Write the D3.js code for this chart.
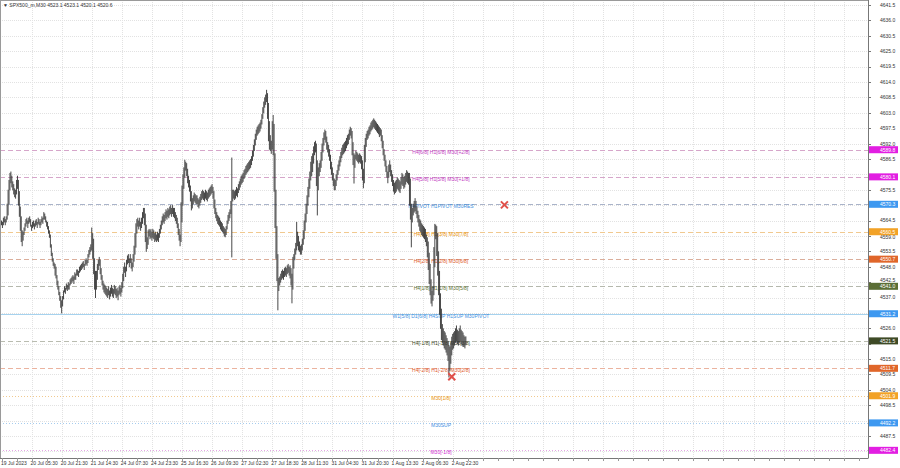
<!DOCTYPE html>
<html><head><meta charset="utf-8">
<script src="https://cdn.jsdelivr.net/npm/d3@7"></script>
<style>body{margin:0;background:#fff;}svg{display:block;font-family:"Liberation Sans",Arial,sans-serif;}</style>
</head><body><svg id="c" width="900" height="468"></svg>
<script>
const symbol = "SPX500_m,M30";
const lastBar = [4523.1, 4523.1, 4520.1, 4520.6];
const lows = [
4563,4562,4563,4564,4563, 4564,4565,4566.5,4570.5,4575.5,
4578,4576.5,4575.5,4574,4573, 4572.5,4574,4576,4570,4566,
4561,4557,4555.5,4557.5,4559.5, 4561,4562.5,4563.5,4562,4563.5,
4564,4562.5,4561,4562,4562.5, 4561.5,4562.5,4563,4562,4563.5,4563,
4562,4563,4564,4563.5,4565, 4565,4564,4562.5,4561.5,4560,
4558.5,4555,4552,4550,4548.5, 4547.5,4545,4544,4541.5,4540,
4538,4536,4533.5,4531.5,4534, 4536.5,4539,4538.5,4540,4539.5,
4540,4540,4541.5,4542,4542.5, 4543,4542,4543.5,4543.5,4545,
4545,4544.5,4546,4546.5,4547, 4547.5,4548,4547,4548.5,4549,
4548.5,4549.5,4551.5,4552.5,4553.5, 4554,4551,4545.5,4540,4537,
4540,4543.5,4547,4548.5,4545.5, 4543.5,4541.5,4540,4539,4538.5,4538,
4537.5,4537,4538,4536.5,4537.5, 4538.5,4537.5,4537,4538.5,4538,
4537,4537.5,4536.2,4538,4538.5, 4537.5,4539,4540.5,4543,4546,
4544.5,4546.5,4549,4549.5,4548, 4549.5,4547.5,4546.5,4548,4550,
4552.5,4555,4560,4562.5,4561.5, 4562.5,4561,4562,4563.5,4565.5,
4563,4557,4553.5,4554.5,4556, 4559,4558,4558.5,4557.5,4558.5,
4558,4557,4557.5,4557,4557.5, 4557,4558.5,4560,4561.5,4563,
4564,4563.5,4564.5,4565.5,4565, 4566,4565.5,4566.5,4567,4566,
4567,4566,4565.5,4564.5,4563.5,4562, 4559.5,4557.5,4555.5,4557,4564,
4570,4576,4580,4582.5,4580.5, 4578,4576.5,4575,4571.5,4568.3,
4569,4570.5,4571.5,4571,4570.5, 4570.5,4569.5,4569,4570,4571,
4572,4572.5,4572,4571.5,4572.5, 4572,4571.5,4572.5,4573,4573.5,
4574,4574.5,4572.5,4569,4567, 4565.5,4564.5,4563.5,4563,4562.5,
4561.5,4561,4560.5,4560,4559, 4558.7,4559.5,4561.5,4563.5,4564.5,
4565.5,4567,4551.5,4571.5,4572.5, 4572,4572.5,4573.5,4573,4574.5,
4575.5,4576.5,4577.5,4578,4578.5,4579.5, 4580,4581,4581.5,4582,4582.5,
4583,4583.5,4584.5,4586,4587.5, 4589.5,4591.5,4593.5,4595,4595.5,
4596,4596.5,4597.5,4599,4601, 4603,4605,4606,4607,4601,
4593,4590,4589.5,4588.5,4590, 4588,4575,4562,4551,4543,
4532.6,4539.5,4541.5,4542.5,4543.5, 4544,4543.5,4544.5,4545,4544.5,
4545.5,4546,4545,4544,4541.5, 4535.1,4540,4547.5,4550.5,4552.5,
4554,4555.5,4554,4553.5,4552.5, 4552.5,4554,4556,4558,4561,
4564,4567,4570,4573,4576, 4579,4580.5,4582,4585,4588,4589,
4577,4566.5,4575.5,4580.5,4582, 4583.5,4586,4589,4591.5,4593.5,
4592.5,4590,4589,4587.5,4586, 4583,4581,4579,4577,4575.5,
4575.5,4577,4579,4581,4582.5, 4584,4585.5,4587,4588,4588.5,
4589,4589.5,4590.5,4591.5,4592, 4593.5,4595,4594,4588,4584.5,
4577.9,4583.5,4586.5,4586,4585.5, 4585,4585.5,4585,4583,4579,
4576.2,4578,4585.5,4591,4593.5, 4594,4595,4595.5,4596.5,4597,
4597.5,4598,4597.5,4597,4596.5, 4596,4595.5,4594.5,4595,4593,4590.5,
4588,4586,4584,4582,4580, 4578,4580,4582,4580.5,4578.5,
4577,4575,4574,4574.5,4575, 4576,4575.5,4575,4574.5,4576,
4577.5,4577,4576,4576.5,4577.5, 4578.5,4578,4577.5,4570,4565,
4555.1,4564,4566.5,4567.5,4568, 4567,4565.5,4564,4562.5,4561,
4560.5,4559.5,4559,4558.5,4558, 4557,4555.5,4551.5,4547,4542,
4538,4535,4534,4536,4538, 4548,4558,4552,4545,4538,
4531,4526,4522,4521,4520, 4519,4518.5,4517.5,4516.5,4514.5,
4508.6,4511,4513.5,4516.5,4518.5,4519, 4520,4521,4521.5,4520.5,4520,
4521,4521.5,4520.5,4520,4519.5, 4519.5,4519,4520.1
];
const highs = [
4564.5,4564,4565.5,4566,4565, 4566,4570.5,4575.5,4579,4581.5,
4582,4580.5,4578.5,4577.5,4576, 4575.5,4579,4580.5,4579,4575,
4569.5,4566,4561,4560.5,4562, 4563.5,4565,4565.5,4564.5,4565.5,
4566,4565,4563,4564,4564.5, 4563.5,4564.5,4565,4564,4565.5,4565,
4564,4565,4566,4565.5,4567.5, 4567,4566,4564.5,4564,4562.5,
4561,4559.5,4556,4553,4551, 4549.5,4549,4548,4545,4543,
4541,4539,4537.5,4536,4537.5, 4539.5,4541,4540.5,4542,4541.5,
4542.5,4542,4543.5,4544,4544.5, 4545,4544.5,4546,4545.5,4547,
4547,4546.5,4548,4548.5,4549, 4549.5,4550,4549,4550.5,4551,
4550.5,4552.5,4554,4555,4556, 4562,4560,4558,4551,4546.5,
4546.5,4549,4550.5,4551.5,4550.5, 4547.5,4545,4543,4542,4541.5,4541,
4540.5,4540,4541,4539.5,4540.5, 4541.5,4540.5,4540,4541.5,4541,
4540,4540.5,4539.5,4541,4541.5, 4540.5,4542.5,4545.5,4548,4549.5,
4548,4550.5,4552,4552.5,4551, 4552.5,4551,4549.5,4552.5,4555.5,
4560,4563.5,4565,4565.5,4564.5, 4565.5,4564,4565.5,4567.5,4569,
4569,4567,4563,4558.5,4561, 4561.5,4561,4561.5,4560.5,4561.5,
4561,4560,4560.5,4559.5,4560.5, 4560,4561.5,4563,4564.5,4566,
4567,4566.5,4567.5,4568.5,4568, 4569,4568.5,4569.5,4570,4569,
4570,4569,4569,4567.5,4566.5,4565.5, 4563.5,4561.5,4559.5,4571,4577,
4581,4583.5,4586.2,4585.5,4585, 4583,4580.5,4579,4577,4575,
4572.5,4573.5,4574.5,4574,4573.5, 4573.5,4572.5,4572,4573,4574,
4575,4575.5,4575,4574.5,4575.5, 4575,4574.5,4575.5,4576,4576.5,
4577,4577.5,4576.5,4575,4572, 4569,4567.5,4566.5,4566,4565.5,
4564.5,4564,4563.5,4562.5,4562, 4561.5,4562.5,4564.5,4566.5,4567.5,
4568.5,4571.5,4587,4575.5,4575.5, 4575,4575.5,4576.5,4576,4577.5,
4578.5,4579.5,4580.5,4581,4581.5,4582.5, 4583,4584,4584.5,4585,4585.5,
4586,4586.5,4587.5,4589.5,4591.5, 4593.5,4595.5,4597,4598,4598.5,
4599,4599.5,4600.5,4602.5,4605, 4607,4608.5,4609.5,4611.2,4610,
4606.5,4600,4595,4593,4600, 4602.2,4599,4588.5,4575.5,4562.5,
4552.5,4544,4544.5,4545.5,4546.5, 4547,4546.5,4547.5,4548,4547.5,
4548.5,4549,4548,4548.5,4547.5, 4545.5,4551.5,4552.5,4554.5,4556.5,
4564,4560.5,4559,4557,4555.5, 4556,4558,4561,4564.5,4567,
4570.5,4573.5,4576.5,4579.5,4582, 4585.5,4587.5,4588.5,4591,4592.5,4593,
4592,4586,4583.5,4585,4586, 4589,4592,4594,4596,4597,
4596.5,4594.5,4592.5,4591.5,4590, 4588,4585.5,4583.5,4581.5,4579.5,
4579,4581,4582.5,4584.5,4586, 4587.5,4589,4590.5,4591.5,4592,
4592.5,4593,4594,4595,4595.5, 4597,4598,4597.5,4596.5,4592.5,
4588.5,4588,4589.5,4589,4588.5, 4588,4588.5,4588,4587.5,4586,
4583,4591.5,4594,4595.5,4596.5, 4597,4598,4598.5,4599.5,4600,
4600.5,4601,4600.5,4600,4599.5, 4599,4598.5,4598,4597.5,4597,4595,
4593,4590,4588,4586,4584, 4582,4584.5,4586,4584.5,4582.5,
4581,4579,4578,4578.5,4579, 4580,4579.5,4579,4578.5,4580,
4581.5,4581,4580,4580.5,4581.5, 4582.5,4582,4581.5,4581.5,4579.5,
4570.5,4569,4570.5,4571.5,4572.5, 4571.5,4569.5,4568,4566.5,4565,
4564.5,4563.5,4563,4562.5,4562, 4561.5,4559.5,4558.5,4557,4553,
4549,4543.5,4539.5,4541,4555, 4563.3,4563,4562.5,4560,4553.5,
4546.5,4538.5,4533,4527.5,4526, 4525,4524.5,4523.5,4522.5,4521.5,
4520,4519.5,4521,4523,4524,4524.5, 4525,4526,4527,4525.5,4525,
4526,4527,4525.5,4525,4524.5, 4523.5,4523,4523.1
];
const timeLabels = ["19 Jul 2023","20 Jul 05:30","20 Jul 21:30","21 Jul 14:30","24 Jul 07:30","24 Jul 23:30","25 Jul 16:30","26 Jul 09:30","27 Jul 02:30","27 Jul 18:30","28 Jul 11:30","31 Jul 04:30","31 Jul 20:30","1 Aug 13:30","2 Aug 06:30","2 Aug 22:30"];
const barsPerLabel = 32;
const priceTicks = [4641.5,4636.0,4630.5,4625.0,4619.5,4614.0,4608.5,4603.0,4597.5,4592.0,4586.5,4581.0,4575.5,4570.0,4564.5,4559.0,4553.5,4548.0,4542.5,4537.0,4531.5,4526.0,4520.5,4515.0,4509.5,4504.0,4498.5,4493.0,4487.5,4482.0];
const levelPrices = [4589.8,4580.1,4570.3,4560.5,4550.7,4541.0,4531.2,4521.5,4511.7,4501.9,4492.2,4482.4];
const levelTexts = ["H4[6/8] H1[6/8] M30[+2/8]","H4[5/8] H1[5/8] M30[+1/8]","H4PIVOT H1PIVOT M30RES","H4[3/8] H1[3/8] M30[7/8]","H4[2/8] H1[2/8] M30[6/8]","H4[1/8] H1[1/8] M30[5/8]","W1[5/8] D1[6/8] H4SUP H1SUP M30PIVOT","H4[-1/8] H1[-1/8] M30[3/8]","H4[-2/8] H1[-2/8] M30[2/8]","M30[1/8]","M30SUP","M30[-1/8]"];
const markerBars = [535, 479];
const markerPrices = [4570.1, 4508.7];

// ---- styles ----
const STY = [
 {line:"#d6a6ca",dash:"5,3",text:"#c23ac2",box:"#e21ee2"},
 {line:"#d6a6ca",dash:"5,3",text:"#c23ac2",box:"#e21ee2"},
 {line:"#a9b3c9",dash:"5,3",text:"#3f8fe0",box:"#3d98f0"},
 {line:"#f1c98f",dash:"5,3",text:"#e8920c",box:"#f2a226"},
 {line:"#dbae9b",dash:"5,3",text:"#e0592a",box:"#e0662a"},
 {line:"#b5b8ad",dash:"5,3",text:"#5a7030",box:"#5b6e35"},
 {line:"#a6d2ee",dash:null,text:"#3f8fe0",box:"#3d98f0"},
 {line:"#b9bcb0",dash:"5,3",text:"#3f4a27",box:"#3e4a26"},
 {line:"#ebb39f",dash:"5,3",text:"#e0592a",box:"#e0662a"},
 {line:"#f1c98f",dash:"1,2",text:"#e8920c",box:"#f2a226"},
 {line:"#a6ccee",dash:"1,2",text:"#3f8fe0",box:"#3d98f0"},
 {line:"#e5a5e5",dash:"1,2",text:"#d22fd2",box:"#e21ee2"}
];
const PR = 868, PB = 458;
const svg = d3.select("#c");
const n = Math.min(lows.length, highs.length);
const x = d3.scaleLinear().domain([0, 921]).range([1.5, 1.5 + 0.94 * 921]);
const y = d3.scaleLinear().domain([4479.66, 4643.29]).range([PB, 0]);
const fs = 5;

// grid
const gridBars = d3.range(0, 922, barsPerLabel).filter(b => x(b) < PR);
const g = svg.append("g");
g.selectAll(".vg").data(gridBars.slice(1)).enter().append("line")
 .attr("x1", d => Math.round(x(d)) + 0.5).attr("x2", d => Math.round(x(d)) + 0.5)
 .attr("y1", 0).attr("y2", PB).attr("stroke", "#e2e2e2").attr("stroke-dasharray", "1,1");
g.selectAll(".hg").data(priceTicks).enter().append("line")
 .attr("x1", 0).attr("x2", PR).attr("y1", d => Math.round(y(d)) + 0.5).attr("y2", d => Math.round(y(d)) + 0.5)
 .attr("stroke", "#e2e2e2").attr("stroke-dasharray", "1,1");

// levels
const lv = svg.append("g");
levelPrices.forEach((p, i) => {
  const yy = Math.round(y(p)) + 0.5;
  const l = lv.append("line").attr("x1", 0).attr("x2", PR).attr("y1", yy).attr("y2", yy)
    .attr("stroke", STY[i].line).attr("stroke-width", 1);
  if (STY[i].dash) l.attr("stroke-dasharray", STY[i].dash);
  lv.append("text").attr("x", 441).attr("y", y(p) + 4).attr("text-anchor", "middle")
    .attr("font-size", fs).attr("fill", STY[i].text).text(levelTexts[i]);
});

// candles (high-low)
svg.append("g").selectAll("line").data(d3.range(n)).enter().append("line")
 .attr("x1", i => x(i)).attr("x2", i => x(i))
 .attr("y1", i => y(highs[i])).attr("y2", i => y(lows[i]) + 0.5)
 .attr("stroke", "#333").attr("stroke-width", 0.9);

// markers
markerBars.forEach((b, i) => {
  const cx = x(b), cy = y(markerPrices[i]), s = 3.5;
  svg.append("path").attr("d", `M${cx-s},${cy-s}L${cx+s},${cy+s}M${cx+s},${cy-s}L${cx-s},${cy+s}`)
    .attr("stroke", "#e0504a").attr("stroke-width", 2).attr("fill", "none");
});

// frame
svg.append("line").attr("x1", 0).attr("x2", PR).attr("y1", 0.5).attr("y2", 0.5).attr("stroke", "#9a9a9a");
svg.append("line").attr("x1", 0.5).attr("x2", 0.5).attr("y1", 0).attr("y2", PB).attr("stroke", "#9a9a9a");
svg.append("line").attr("x1", 0).attr("x2", PR + 0.5).attr("y1", PB + 0.5).attr("y2", PB + 0.5).attr("stroke", "#777");
svg.append("line").attr("x1", PR + 0.5).attr("x2", PR + 0.5).attr("y1", 0).attr("y2", PB).attr("stroke", "#777");

// price axis
const visibleTicks = priceTicks.filter(t => levelPrices.every(p => Math.abs(p - t) > 1.05));
const tickLabelY = t => {
  let yy = y(t) + 1.8;
  levelPrices.forEach(p => {
    const d = y(t) - y(p);
    if (Math.abs(d) < 6.2) yy = y(p) + (d > 0 ? 3.5 + 4.2 : -3.5 - 0.6);
  });
  return yy;
};
const pa = svg.append("g");
pa.selectAll(".pt").data(priceTicks).enter().append("line")
 .attr("x1", PR).attr("x2", PR + 3).attr("y1", d => Math.round(y(d)) + 0.5).attr("y2", d => Math.round(y(d)) + 0.5).attr("stroke", "#777");
pa.selectAll(".pl").data(visibleTicks).enter().append("text")
 .attr("x", 880).attr("y", tickLabelY).attr("font-size", fs).attr("fill", "#333").text(d => d.toFixed(1));
levelPrices.forEach((p, i) => {
  pa.append("rect").attr("x", PR + 1).attr("y", y(p) - 3.5).attr("width", 29).attr("height", 7).attr("fill", STY[i].box);
  pa.append("text").attr("x", 880).attr("y", y(p) + 1.8).attr("font-size", fs).attr("fill", "#fff").text(p.toFixed(1));
});

// time axis
const ta = svg.append("g");
ta.selectAll(".tt").data(d3.range(0, 922, barsPerLabel / 2).filter(b => x(b) < PR)).enter().append("line")
 .attr("x1", d => Math.round(x(d)) + 0.5).attr("x2", d => Math.round(x(d)) + 0.5)
 .attr("y1", PB).attr("y2", PB + 3).attr("stroke", "#999");
ta.selectAll(".tl").data(timeLabels).enter().append("text")
 .attr("x", (d, k) => k === 0 ? x(0) - 0.5 : x(k * barsPerLabel) - 1).attr("y", 465)
 .attr("font-size", fs).attr("fill", "#333").text(d => d);

// title
svg.append("text").attr("x", 3).attr("y", 6.5).attr("font-size", fs).attr("fill", "#333")
 .text("\u25BC  " + symbol + "  " + lastBar.map(v => v.toFixed(1)).join(" "));
</script></body></html>
